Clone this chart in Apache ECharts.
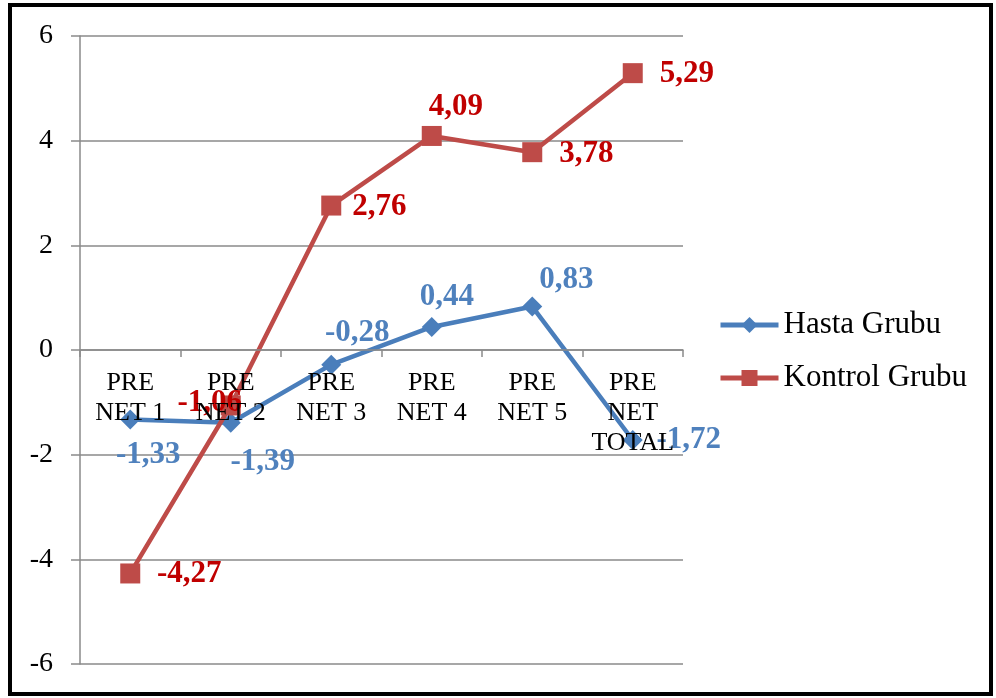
<!DOCTYPE html>
<html>
<head>
<meta charset="utf-8">
<script src="https://cdn.jsdelivr.net/npm/echarts@6/dist/echarts.min.js"></script>
<style>
  html, body { margin: 0; padding: 0; background: #fff; }
  #chart { width: 996px; height: 698px; }
</style>
</head>
<body>
<div id="chart"></div>
<script>
// Categories and series values
const categories = ['PRE\nNET 1', 'PRE\nNET 2', 'PRE\nNET 3', 'PRE\nNET 4', 'PRE\nNET 5', 'PRE\nNET\nTOTAL'];
const hastaValues = [-1.33, -1.39, -0.28, 0.44, 0.83, -1.72];
const kontrolValues = [-4.27, -1.06, 2.76, 4.09, 3.78, 5.29];
const seriesNames = ['Hasta Grubu', 'Kontrol Grubu'];
const yTicks = { min: -6, max: 6, interval: 2 };

// Placement of each value label relative to its marker (pixels)
const hastaLabelOffset = [[18, 35], [32, 39], [26, -32], [15, -30], [34, -27], [56, 0]];
const kontrolLabelOffset = [[59, 1], [-21, -2], [48, 1], [24, -29], [54, 2], [54, 1]];

const serif = '"Liberation Serif", "Times New Roman", serif';
const fmt = v => v.toFixed(2).replace('.', ',');

// Plot box
const CHART_H = 698;
const GRID = { left: 80, right: 313, top: 36, bottom: 34 };
const plotH = CHART_H - GRID.top - GRID.bottom;
// Lift the category axis (line, ticks and labels) up to the value 0
const zeroLift = plotH * (0 - yTicks.min) / (yTicks.max - yTicks.min);

function withLabels(values, offsets, color) {
  return values.map((v, i) => ({
    value: v,
    label: {
      show: true,
      position: 'inside',
      offset: offsets[i],
      formatter: p => fmt(p.value),
      color: color,
      fontFamily: serif,
      fontWeight: 'bold',
      fontSize: 31
    }
  }));
}

const chart = echarts.init(document.getElementById('chart'), null, { renderer: 'canvas' });

chart.setOption({
  backgroundColor: '#ffffff',
  animation: false,
  graphic: [{
    type: 'rect',
    shape: { x: 10, y: 5, width: 981, height: 689 },
    style: { fill: 'none', stroke: '#000', lineWidth: 4 },
    z: 100
  }],
  grid: Object.assign({ containLabel: false, outerBoundsMode: 'none' }, GRID),
  legend: {
    orient: 'vertical',
    left: 718,
    top: 309,
    padding: 0,
    itemWidth: 58,
    itemHeight: 20,
    itemGap: 21,
    data: seriesNames,
    lineStyle: { width: 5 },
    textStyle: { fontFamily: serif, fontSize: 31, color: '#000', lineHeight: 32 }
  },
  xAxis: {
    type: 'category',
    data: categories,
    boundaryGap: true,
    position: 'bottom',
    offset: -zeroLift,
    z: 10,
    axisLine: { onZero: false, lineStyle: { color: '#8a8a8a', width: 1.5 } },
    axisTick: { show: true, inside: false, length: 7, lineStyle: { color: '#8a8a8a', width: 1.5 } },
    axisLabel: {
      interval: 0,
      margin: 18,
      color: '#000',
      fontFamily: serif,
      fontSize: 26,
      lineHeight: 30
    }
  },
  yAxis: {
    type: 'value',
    min: yTicks.min,
    max: yTicks.max,
    interval: yTicks.interval,
    axisLine: { show: true, lineStyle: { color: '#8a8a8a', width: 1.5 } },
    axisTick: { show: true, inside: false, length: 9, lineStyle: { color: '#8a8a8a', width: 1.5 } },
    splitLine: { show: true, lineStyle: { color: '#8a8a8a', width: 1.5 } },
    axisLabel: {
      margin: 27,
      color: '#000',
      fontFamily: serif,
      fontSize: 28,
      formatter: v => String(v)
    }
  },
  series: [
    {
      name: seriesNames[0],
      type: 'line',
      data: withLabels(hastaValues, hastaLabelOffset, '#4F81BD'),
      symbol: 'diamond',
      symbolSize: 20,
      lineStyle: { color: '#4A7EBB', width: 4.5 },
      itemStyle: { color: '#4A7EBB' },
      z: 3
    },
    {
      name: seriesNames[1],
      type: 'line',
      data: withLabels(kontrolValues, kontrolLabelOffset, '#C00000'),
      symbol: 'rect',
      symbolSize: 20,
      lineStyle: { color: '#BE4B48', width: 4.5 },
      itemStyle: { color: '#BE4B48' },
      z: 4
    }
  ]
});
</script>
</body>
</html>
